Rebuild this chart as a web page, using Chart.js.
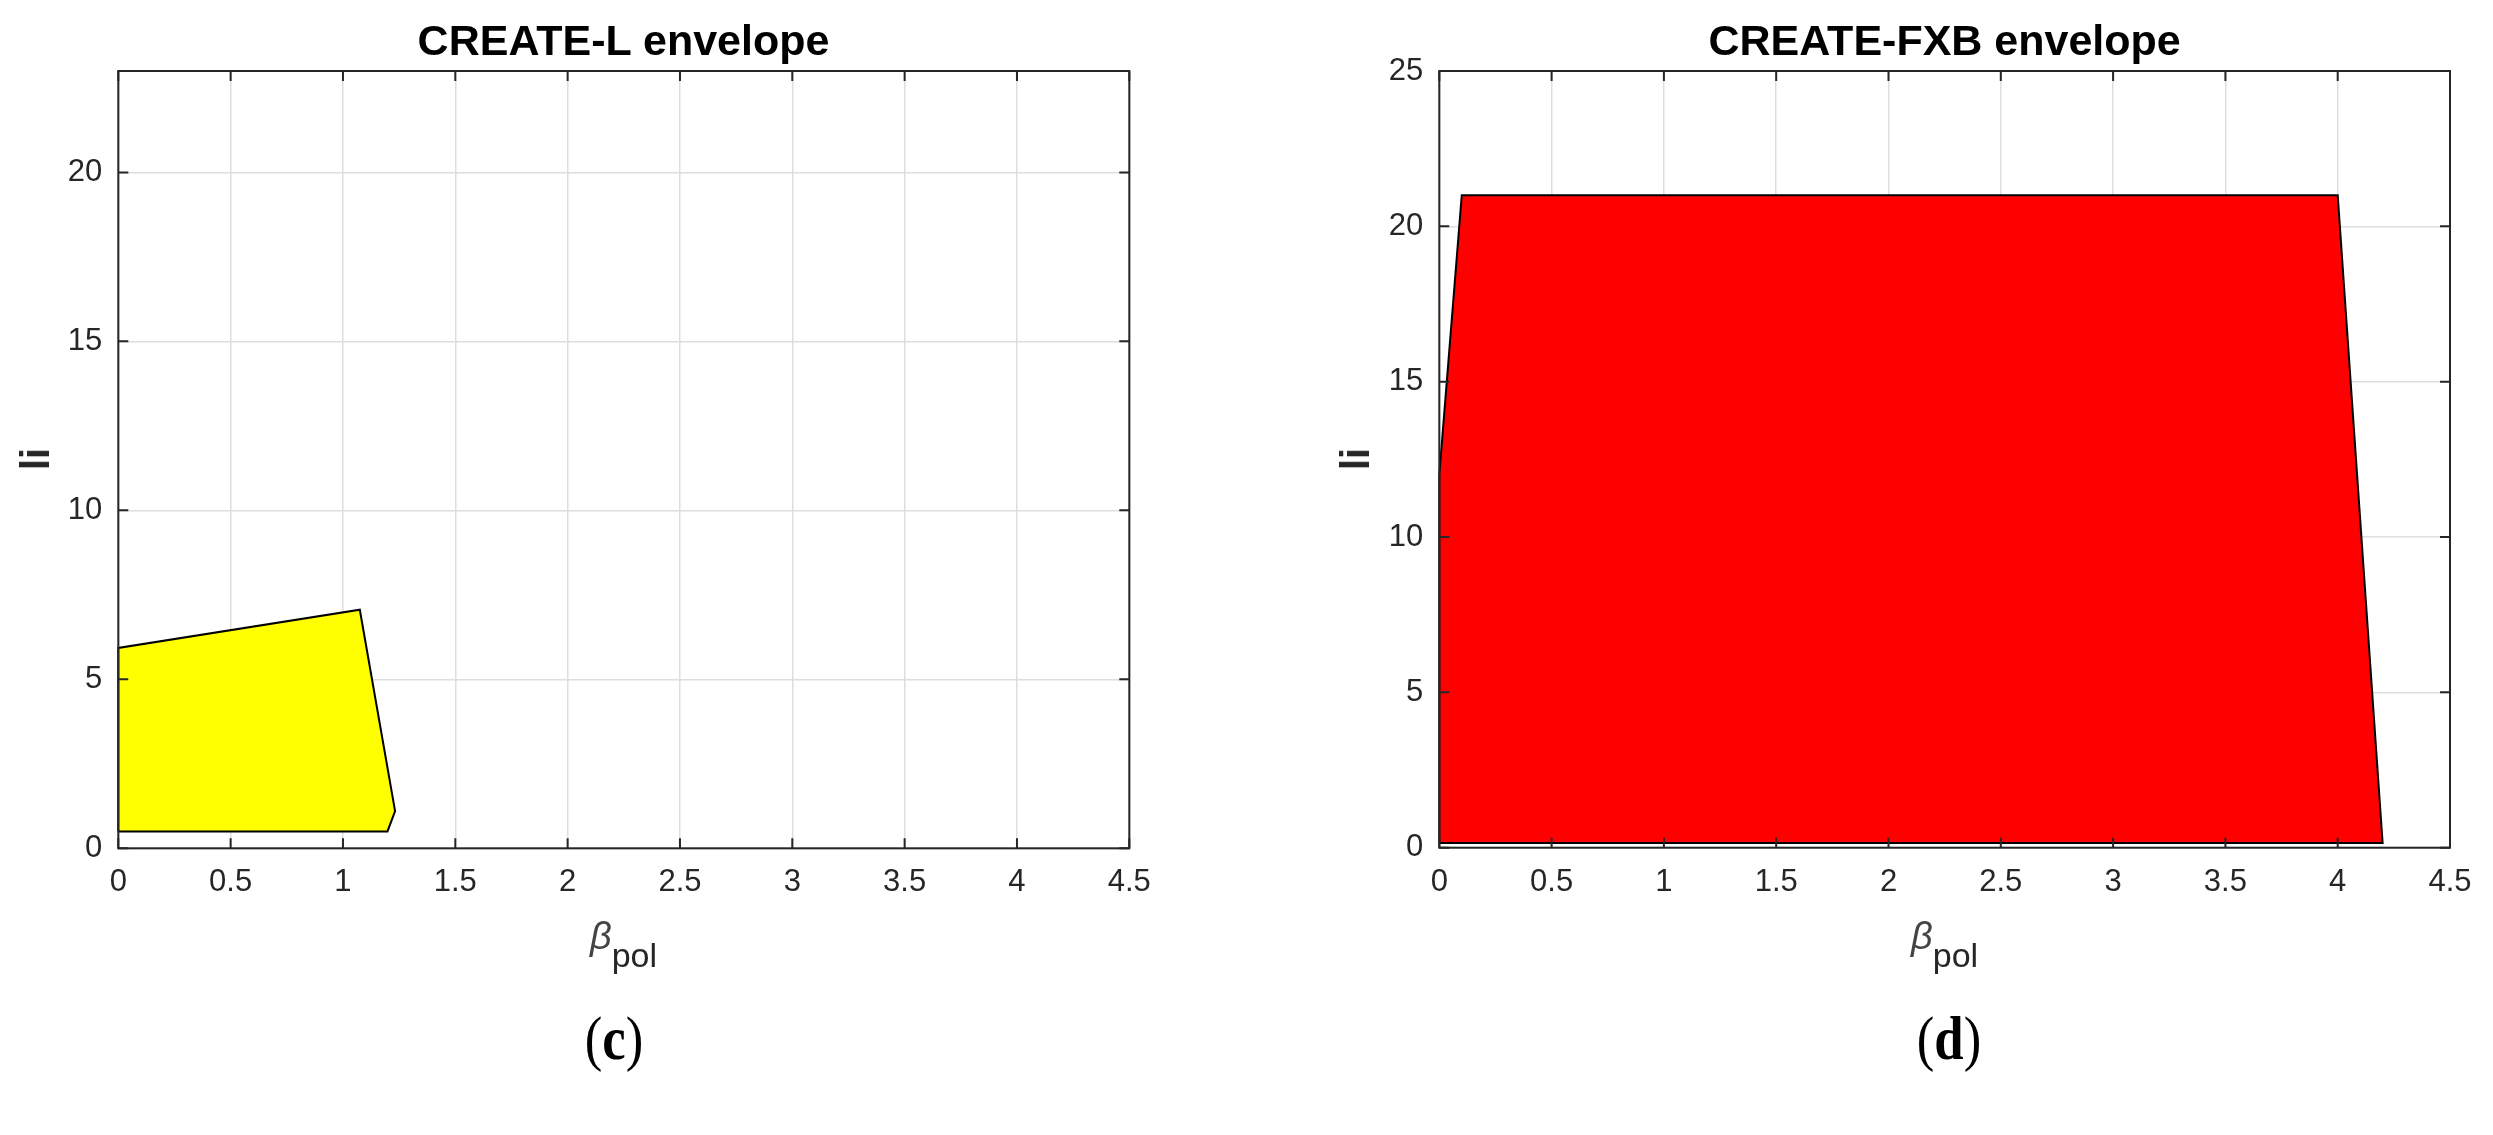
<!DOCTYPE html>
<html>
<head>
<meta charset="utf-8">
<script src="https://cdn.jsdelivr.net/npm/chart.js@4.4.1/dist/chart.umd.min.js"></script>
<style>
  body { margin: 0; width: 2493px; height: 1135px; background: #fff; position: relative; overflow: hidden;
         font-family: "Liberation Sans", Arial, sans-serif; }
  canvas { position: absolute; top: 0; }
  .judul { position: absolute; top: 18.6px; font-size: 43px; line-height: 1; font-weight: bold; color: #000;
           white-space: nowrap; transform: translateX(-50%); }
  .labelY { position: absolute; top: 459px; font-size: 40px; line-height: 1; font-weight: bold; color: #262626;
            transform: translate(-50%, -50%) rotate(-90deg); }
  .labelX { position: absolute; top: 916.8px; font-size: 38px; line-height: 1; color: #262626;
            white-space: nowrap; transform: translateX(-50%); }
  .labelX .beta { font-style: italic; color: #444; }
  .labelX .sub { position: relative; top: 18px; font-size: 34px; }
  .panel { position: absolute; top: 1007px; font-family: "Liberation Serif", serif; font-size: 62px; line-height: 1;
           color: #000; transform: translateX(-50%) scaleX(0.85); white-space: nowrap; }
  .panel b { font-weight: bold; }
</style>
</head>
<body>
<canvas id="grafikKiri" width="1246" height="1135" style="left:0"></canvas>
<canvas id="grafikKanan" width="1247" height="1135" style="left:1246px"></canvas>

<div class="judul" style="left:623.5px">CREATE-L envelope</div>
<div class="judul" style="left:1944.6px">CREATE-FXB envelope</div>
<div class="labelY" style="left:34.5px">li</div>
<div class="labelY" style="left:1355px">li</div>
<div class="labelX" style="left:623.5px"><span class="beta">β</span><span class="sub">pol</span></div>
<div class="labelX" style="left:1944.6px"><span class="beta">β</span><span class="sub">pol</span></div>
<div class="panel" style="left:614px">(<b>c</b>)</div>
<div class="panel" style="left:1949px">(<b>d</b>)</div>

<script>
// Data envelope
const betaL = [0, 0, 1.075, 1.232, 1.198, 0];
const liL   = [0.5, 5.93, 7.06, 1.10, 0.5, 0.5];

const betaFXB = [0, 0, 0.1, 4.0, 4.2, 0];
const liFXB   = [0.15, 12.0, 21.0, 21.0, 0.15, 0.15];

const xTicks = [0, 0.5, 1, 1.5, 2, 2.5, 3, 3.5, 4, 4.5];
const yTicks = [0, 5, 10, 15, 20, 25];
const yMaxL = 23;
const yMaxFXB = 25;

const warnaAxis = '#262626';
const warnaGrid = '#dedede';

// Plugin: kotak sumbu + tick ke dalam (gaya MATLAB)
const kotakSumbu = {
  id: 'kotakSumbu',
  afterDatasetsDraw(chart) {
    const { ctx, chartArea: a, scales } = chart;
    const pj = 10;
    ctx.save();
    ctx.strokeStyle = warnaAxis;
    ctx.lineWidth = 2;
    ctx.beginPath();
    scales.x.ticks.forEach(t => {
      const px = scales.x.getPixelForValue(t.value);
      ctx.moveTo(px, a.bottom); ctx.lineTo(px, a.bottom - pj);
      ctx.moveTo(px, a.top); ctx.lineTo(px, a.top + pj);
    });
    scales.y.ticks.forEach(t => {
      const py = scales.y.getPixelForValue(t.value);
      ctx.moveTo(a.left, py); ctx.lineTo(a.left + pj, py);
      ctx.moveTo(a.right, py); ctx.lineTo(a.right - pj, py);
    });
    ctx.stroke();
    ctx.strokeRect(a.left, a.top, a.right - a.left, a.bottom - a.top);
    ctx.restore();
  }
};

function buatGrafik(id, dataX, dataY, warna, yMax, lebarY, bawah, pad) {
  const titik = dataX.map((x, i) => ({ x: x, y: dataY[i] }));
  const ctx = document.getElementById(id).getContext('2d');
  return new Chart(ctx, {
    type: 'scatter',
    data: {
      datasets: [{
        data: titik,
        showLine: true,
        fill: 'shape',
        backgroundColor: warna,
        borderColor: '#000',
        borderWidth: 2,
        pointRadius: 0,
        tension: 0,
        clip: false
      }]
    },
    options: {
      responsive: false,
      animation: false,
      events: [],
      layout: { padding: pad },
      plugins: { legend: { display: false }, tooltip: { enabled: false } },
      scales: {
        x: {
          type: 'linear', min: 0, max: 4.5,
          afterBuildTicks: s => { s.ticks = xTicks.map(v => ({ value: v })); },
          afterFit: s => { s.height = 1135 - bawah; },
          grid: { color: warnaGrid, lineWidth: 1.5, drawTicks: false },
          border: { display: false },
          ticks: { color: warnaAxis, padding: 16, font: { family: 'Liberation Sans', size: 31 },
                   maxRotation: 0, autoSkip: false, callback: v => String(v) }
        },
        y: {
          type: 'linear', min: 0, max: yMax,
          afterBuildTicks: s => { s.ticks = yTicks.filter(v => v <= yMax).map(v => ({ value: v })); },
          afterFit: s => { s.width = lebarY; },
          grid: { color: warnaGrid, lineWidth: 1.5, drawTicks: false },
          border: { display: false },
          ticks: { color: warnaAxis, padding: 16, font: { family: 'Liberation Sans', size: 31 },
                   callback: v => String(v) }
        }
      }
    },
    plugins: [kotakSumbu]
  });
}

const grafikKiri = buatGrafik('grafikKiri', betaL, liL, '#ffff00', yMaxL, 118.3, 848.3,
  { top: 71, right: 116.7, bottom: 0, left: 0 });
const grafikKanan = buatGrafik('grafikKanan', betaFXB, liFXB, '#ff0000', yMaxFXB, 193.3, 847.7,
  { top: 71, right: 43, bottom: 0, left: 0 });
</script>
</body>
</html>
